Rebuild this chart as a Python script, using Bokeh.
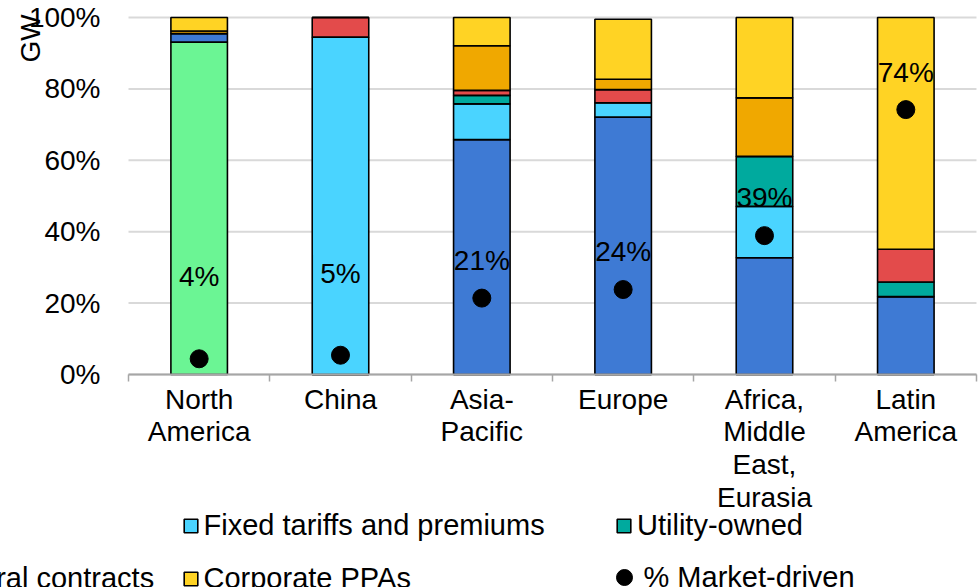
import math
from bokeh.plotting import figure
from bokeh.models import (ColumnDataSource, Range1d, FixedTicker, Legend, LegendItem,
                          Label, LinearAxis)
from bokeh.core.properties import value
from bokeh.embed import file_html
from bokeh.resources import INLINE

# ---------------- data ----------------
regions = ["North\nAmerica", "China", "Asia-\nPacific", "Europe",
           "Africa,\nMiddle\nEast,\nEurasia", "Latin\nAmerica"]
series_names = ["Tax credits", "Auctions", "Fixed tariffs and premiums", "Utility-owned",
                "Merchant", "Utility PPAs/bilateral contracts", "Corporate PPAs"]
tax_credits    = [93.1, 0.0, 0.0, 0.0, 0.0, 0.0]
auctions       = [2.4, 0.0, 65.8, 72.1, 32.7, 21.8]
fixed_tariffs  = [0.0, 94.5, 10.0, 4.0, 14.4, 0.0]
utility_owned  = [0.0, 0.0, 2.4, 0.0, 14.0, 4.1]
merchant       = [0.0, 5.5, 1.4, 3.7, 0.0, 9.2]
bilateral      = [0.7, 0.0, 12.5, 2.9, 16.4, 0.0]
corporate_ppas = [3.8, 0.0, 7.9, 16.8, 22.5, 64.9]
market_driven  = [4.4, 5.4, 21.4, 23.8, 38.9, 74.2]
y_ticks = [0, 20, 40, 60, 80, 100]

# ---------------- styles / layout ----------------
colors = ["#6BF594", "#3E7AD4", "#4AD4FF", "#00AA9E", "#E34B4B", "#F0A800", "#FFD324"]
label_offsets = [-82, -82, -38, -38, -38, -37]   # px: data labels sit above the dots
FONT = "Liberation Sans"
FS = "28px"
LEG_FS = "29px"

W, H = 979, 587
PX_PER_CAT = 141.33      # horizontal pixels per category
X0_PX = 128              # canvas x of the left edge of the category axis
PX_PER_PCT = 3.57        # vertical pixels per percentage point
Y0_PX = 374              # canvas y of 0%

n = len(regions)
x_start = -0.5 - X0_PX / PX_PER_CAT
y_start = -(H - Y0_PX) / PX_PER_PCT

xpos = list(range(n))
keys = ["s%d" % i for i in range(len(series_names))]
data = dict(x=xpos)
for k, arr in zip(keys, [tax_credits, auctions, fixed_tariffs, utility_owned,
                         merchant, bilateral, corporate_ppas]):
    data[k] = arr
src = ColumnDataSource(data)

p = figure(width=W, height=H, output_backend="svg", toolbar_location=None,
           x_range=Range1d(x_start, x_start + W / PX_PER_CAT),
           y_range=Range1d(y_start, y_start + H / PX_PER_PCT),
           x_axis_type=None, y_axis_type=None,
           min_border=0, min_border_left=0, min_border_right=0,
           min_border_top=0, min_border_bottom=0)
p.outline_line_color = None
p.background_fill_color = "white"
p.border_fill_color = "white"

# horizontal gridlines at the tick values
gsrc = ColumnDataSource(dict(y=y_ticks, x0=[-0.5] * len(y_ticks), x1=[n - 0.5] * len(y_ticks)))
p.segment(x0="x0", x1="x1", y0="y", y1="y", source=gsrc, line_color="#D9D9D9", line_width=2)

bars = p.vbar_stack(keys, x="x", width=0.4, source=src, color=colors,
                    line_color="black", line_width=1.6)

dsrc = ColumnDataSource(dict(x=xpos, y=market_driven,
                             lab=["%d%%" % round(v) for v in market_driven],
                             off=label_offsets))
dots = p.scatter(x="x", y="y", source=dsrc, size=18, color="black")
p.text(x="x", y="y", text="lab", source=dsrc, y_offset="off",
       text_font=value(FONT), text_font_size=FS, text_align="center",
       text_baseline="middle", text_color="black")

# axes (drawn at fixed data locations inside the full-canvas frame)
xa = LinearAxis(fixed_location=0, bounds=(-0.5, n - 0.5))
xa.ticker = FixedTicker(ticks=xpos, minor_ticks=[i - 0.5 for i in range(n + 1)])
xa.major_label_overrides = {i: r for i, r in enumerate(regions)}
xa.major_tick_out = 0
xa.major_tick_in = 0
xa.minor_tick_out = 7
xa.minor_tick_in = 0
xa.minor_tick_line_color = "#A6A6A6"
xa.minor_tick_line_width = 1.5
xa.axis_line_color = "#A6A6A6"
xa.axis_line_width = 2
xa.major_label_text_font = FONT
xa.major_label_text_font_size = FS
xa.major_label_text_color = "black"
xa.major_label_text_line_height = 1.06
xa.major_label_standoff = 2
p.add_layout(xa, "below")

ya = LinearAxis(fixed_location=-0.5, bounds=(0, 100))
ya.ticker = FixedTicker(ticks=y_ticks)
ya.major_label_overrides = {t: "%d%%" % t for t in y_ticks}
ya.axis_line_color = None
ya.major_tick_line_color = None
ya.minor_tick_line_color = None
ya.major_label_text_font = FONT
ya.major_label_text_font_size = FS
ya.major_label_text_color = "black"
ya.major_label_standoff = 22
p.add_layout(ya, "left")

p.add_layout(Label(x=x_start + 30 / PX_PER_CAT, y=y_start + (H - 38) / PX_PER_PCT,
                   text="GW", angle=math.pi / 2,
                   text_font=FONT, text_font_size=FS, text_align="center",
                   text_baseline="middle", text_color="black"))

# legend: 4 columns x 2 rows in row-major order; the left columns run off the canvas
col_centers = [-677, -244, 190, 623.5]
row_centers = [525, 578]
legend_renderers = list(bars) + [dots]
legend_labels = series_names + ["% Market-driven"]
ITEM_H = 38
for idx, (r, lab) in enumerate(zip(legend_renderers, legend_labels)):
    row, col = divmod(idx, 4)
    cx, cy = col_centers[col], row_centers[row]
    is_dot = r is dots
    gw = 40 if is_dot else 17
    standoff = -10 if is_dot else 5
    leg = Legend(items=[LegendItem(label=lab, renderers=[r])],
                 location=(cx - gw / 2, H - (cy + ITEM_H / 2)),
                 orientation="vertical", glyph_width=gw, glyph_height=gw,
                 label_height=ITEM_H, label_standoff=standoff,
                 label_text_font=FONT, label_text_font_size=LEG_FS, label_text_color="black",
                 padding=0, margin=0, spacing=0, border_line_color=None,
                 background_fill_alpha=0)
    p.add_layout(leg, "center")

open("out.html", "w").write(file_html(p, INLINE))
